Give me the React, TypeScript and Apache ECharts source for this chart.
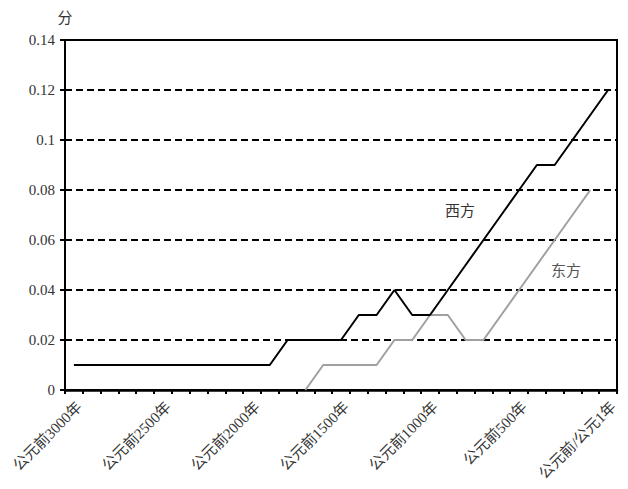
import React, { useEffect, useRef } from "react";
import * as echarts from "echarts";

const categories: string[] = [
  "公元前3000年", "公元前2900年", "公元前2800年", "公元前2700年", "公元前2600年",
  "公元前2500年", "公元前2400年", "公元前2300年", "公元前2200年", "公元前2100年",
  "公元前2000年", "公元前1900年", "公元前1800年", "公元前1700年", "公元前1600年",
  "公元前1500年", "公元前1400年", "公元前1300年", "公元前1200年", "公元前1100年",
  "公元前1000年", "公元前900年", "公元前800年", "公元前700年", "公元前600年",
  "公元前500年", "公元前400年", "公元前300年", "公元前200年", "公元前100年",
  "公元前/公元1年",
];

const westValues: (number | null)[] = [
  0.01, 0.01, 0.01, 0.01, 0.01, 0.01, 0.01, 0.01, 0.01, 0.01,
  0.01, 0.01, 0.02, 0.02, 0.02, 0.02, 0.03, 0.03, 0.04, 0.03,
  0.03, 0.04, 0.05, 0.06, 0.07, 0.08, 0.09, 0.09, 0.1, 0.11,
  0.12,
];

const eastValues: (number | null)[] = [
  null, null, null, null, null, null, null, null, null, null,
  null, null, null, 0, 0.01, 0.01, 0.01, 0.01, 0.02, 0.02,
  0.03, 0.03, 0.02, 0.02, 0.03, 0.04, 0.05, 0.06, 0.07, 0.08,
  null,
];

const seriesNames = ["西方", "东方"];
const yAxisName = "分";

const FONT = '"Liberation Serif", "Times New Roman", "Noto Sans CJK SC", serif';

export default function App() {
  const ref = useRef<HTMLDivElement>(null);
  useEffect(() => {
    if (!ref.current) return;
    const chart = echarts.init(ref.current, null, { renderer: "svg" });
    chart.setOption({
      animation: false,
      backgroundColor: "#ffffff",
      textStyle: { fontFamily: FONT },
      grid: {
        left: 65,
        right: 11,
        top: 40,
        bottom: 99,
        show: true,
        borderColor: "#000",
        borderWidth: 2,
      },
      xAxis: {
        type: "category",
        data: categories,
        boundaryGap: true,
        axisLine: { lineStyle: { color: "#000", width: 2.5 } },
        axisTick: {
          show: true,
          interval: 0,
          length: 4,
          lineStyle: { color: "#000", width: 2 },
        },
        axisLabel: {
          interval: 4,
          rotate: 45,
          margin: 9,
          verticalAlign: "top",
          fontSize: 15,
          color: "#333",
          fontFamily: FONT,
        },
        splitLine: { show: false },
      },
      yAxis: {
        type: "value",
        min: 0,
        max: 0.14,
        interval: 0.02,
        name: yAxisName,
        nameLocation: "end",
        nameGap: 15,
        nameTextStyle: { fontSize: 15, color: "#333", fontFamily: FONT },
        axisLine: { show: true, lineStyle: { color: "#000", width: 2 } },
        axisTick: { show: true, length: 5, lineStyle: { color: "#000", width: 2 } },
        axisLabel: { fontSize: 15, color: "#333", margin: 10, fontFamily: FONT },
        splitLine: {
          show: true,
          lineStyle: { color: "#000", width: 2, type: [7, 4] },
        },
      },
      series: [
        {
          name: seriesNames[0],
          type: "line",
          data: westValues,
          symbol: "none",
          lineStyle: { color: "#000", width: 2 },
          z: 3,
        },
        {
          name: seriesNames[1],
          type: "line",
          data: eastValues,
          symbol: "none",
          connectNulls: false,
          lineStyle: { color: "#a0a0a0", width: 2 },
          z: 2,
        },
      ],
      graphic: [
        {
          type: "text",
          x: 460,
          y: 211,
          style: {
            text: seriesNames[0],
            fontSize: 15,
            fontFamily: FONT,
            fill: "#333",
            align: "center",
            verticalAlign: "middle",
          },
        },
        {
          type: "text",
          x: 566,
          y: 271,
          style: {
            text: seriesNames[1],
            fontSize: 15,
            fontFamily: FONT,
            fill: "#555",
            align: "center",
            verticalAlign: "middle",
          },
        },
      ],
    });
    return () => chart.dispose();
  }, []);
  return <div ref={ref} style={{ width: 628, height: 489, position: "absolute", left: 0, top: 0 }} />;
}
